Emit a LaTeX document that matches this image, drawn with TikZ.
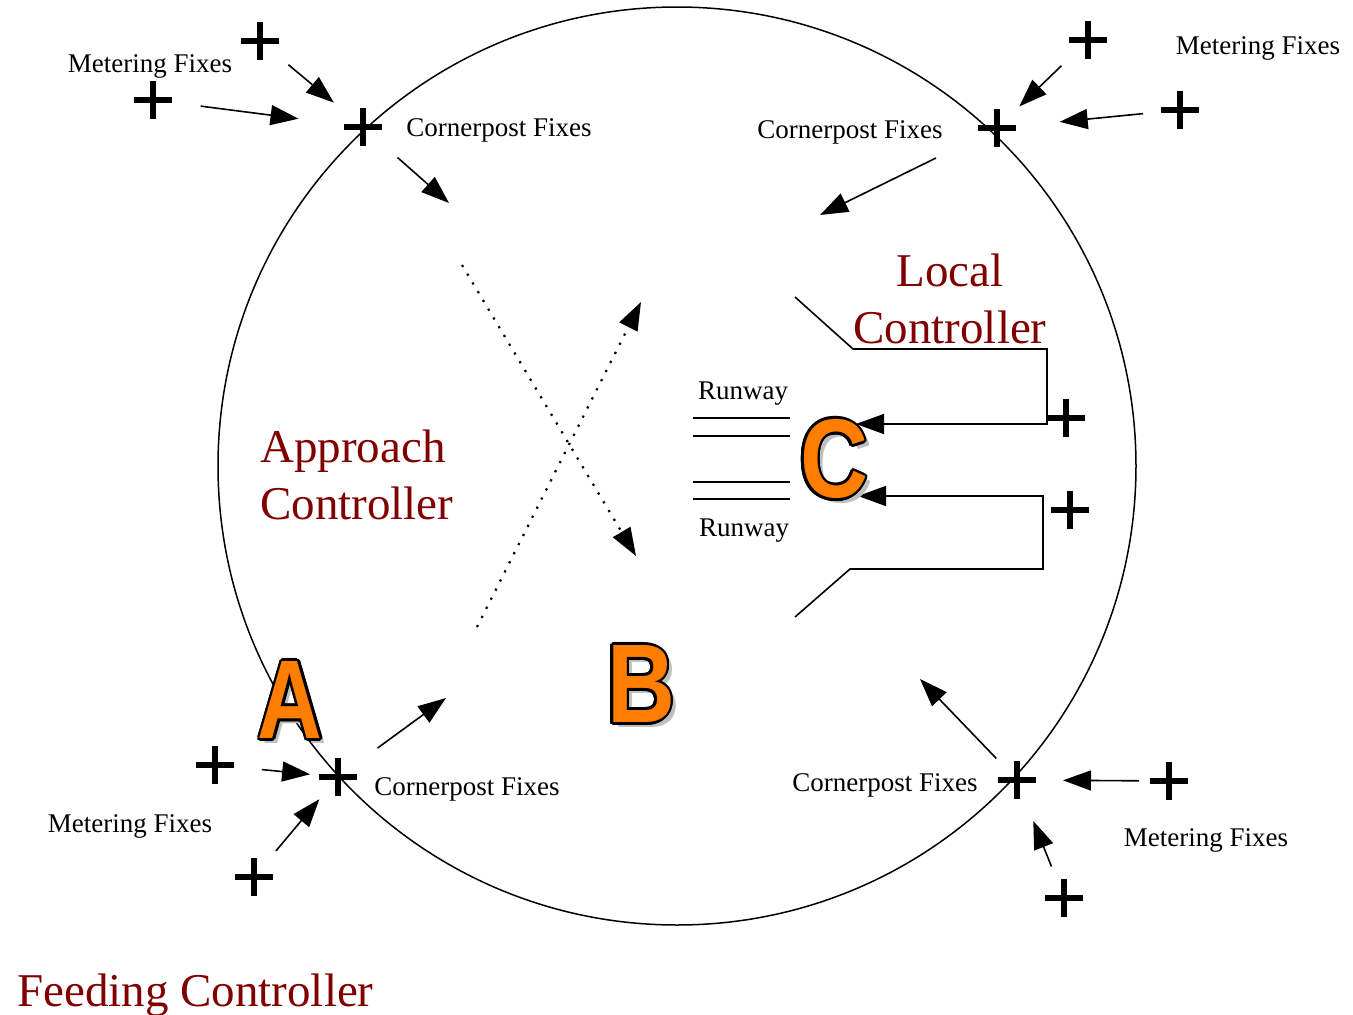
\documentclass[tikz,border=0pt]{standalone}
\usepackage{graphicx}
\usepackage{fontspec}
\setmainfont{Liberation Serif}
\newfontfamily\letterfont{Liberation Sans}
\usetikzlibrary{arrows.meta}
\definecolor{ctrlred}{RGB}{128,0,0}
\definecolor{letterorange}{RGB}{255,125,0}
\newcommand{\bigletter}[2][0.82]{{\letterfont\bfseries\fontsize{112}{112}\selectfont\scalebox{#1}[1]{#2}}}
\begin{document}
\begin{tikzpicture}[x=1pt,y=-1pt,
    fix/.style={minimum size=38pt,inner sep=0pt,
      path picture={\draw[line width=6pt] (path picture bounding box.north) -- (path picture bounding box.south)
        (path picture bounding box.west) -- (path picture bounding box.east);}},
    fixarrow/.style={line width=1.6pt,-{Triangle[length=28pt,width=20pt]}},
    flow/.style={line width=2.2pt,dash pattern=on 2.2pt off 8pt,-{Triangle[length=28pt,width=20pt]}},
    lbl/.style={anchor=base,inner sep=0pt,font=\fontsize{27}{32}\selectfont},
    ctrl/.style={inner sep=0pt,text=ctrlred,font=\fontsize{47}{57}\selectfont},
    letter/.style={inner sep=0pt}]
  \useasboundingbox (0,0) rectangle (1353,1015);
  % \draw[help lines,step=50] (0,0) grid (1353,1015);
  \draw[line width=1.5pt] (677,466) circle[radius=459pt];

  % fixes
  \node[fix] (cTL) at (363,127) {};
  \node[fix] (mTL1) at (260,41) {};
  \node[fix] (mTL2) at (153,100) {};
  \node[fix] (cTR) at (997,128) {};
  \node[fix] (mTR1) at (1088,40) {};
  \node[fix] (mTR2) at (1180,110) {};
  \node[fix] (cBL) at (338,777) {};
  \node[fix] (mBL1) at (215,765) {};
  \node[fix] (mBL2) at (254,877) {};
  \node[fix] (cBR) at (1017,780) {};
  \node[fix] (mBR1) at (1169,781) {};
  \node[fix] (mBR2) at (1064,898) {};
  \node[fix] (fR1) at (1066,418) {};
  \node[fix] (fR2) at (1070,510) {};

  \node[lbl] (mlTL) at (150,72) {Metering Fixes};
  \node[lbl] (mlTR) at (1258,54) {Metering Fixes};
  \node[lbl] (mlBL) at (130,832) {Metering Fixes};
  \node[lbl] (mlBR) at (1206,846) {Metering Fixes};
  \node[lbl] (clTL) at (499,136) {Cornerpost Fixes};
  \node[lbl] (clTR) at (850,138) {Cornerpost Fixes};
  \node[lbl] (clBL) at (467,795) {Cornerpost Fixes};
  \node[lbl] (clBR) at (885,791) {Cornerpost Fixes};
  \node[lbl] (rwTop) at (743,399) {Runway};
  \node[lbl] (rwBot) at (744,536) {Runway};

  % metering -> cornerpost
  \draw[fixarrow,shorten <=37pt,shorten >=38pt] (mTL1.center) -- (cTL.center);
  \draw[fixarrow,shorten <=48pt,shorten >=65pt] (mTL2.center) -- (cTL.center);
  \draw[fixarrow,shorten <=37pt,shorten >=31pt] (mTR1.center) -- (cTR.center);
  \draw[fixarrow,shorten <=37pt,shorten >=63pt] (mTR2.center) -- (cTR.center);
  \draw[fixarrow,shorten <=47pt,shorten >=28pt] (mBL1.center) -- (cBL.center);
  \draw[fixarrow,shorten <=34pt,shorten >=29pt] (mBL2.center) -- (cBL.center);
  \draw[fixarrow,shorten <=30pt,shorten >=46pt] (mBR1.center) -- (cBR.center);
  \draw[fixarrow,shorten <=34pt,shorten >=44pt] (mBR2.center) -- (cBR.center);

  % cornerpost -> approach area
  \coordinate (aTL) at (449,203);
  \coordinate (aTR) at (820,215);
  \coordinate (aBL) at (446,698);
  \coordinate (aBR) at (920,679);
  \draw[fixarrow,shorten <=46pt] (cTL.center) -- (aTL);
  \draw[fixarrow,shorten <=68pt] (cTR.center) -- (aTR);
  \draw[fixarrow,shorten <=49pt] (cBL.center) -- (aBL);
  \draw[fixarrow,shorten <=30pt] (cBR.center) -- (aBR);

  % crossing flows
  \coordinate (dTL) at (462,265);
  \coordinate (dBR) at (636,556);
  \coordinate (dBL) at (477,627);
  \coordinate (dTR) at (641,302);
  \draw[flow] (dTL) -- (dBR);
  \draw[flow] (dBL) -- (dTR);

  % runways
  \foreach \y in {418,436,482,499}
    \draw[line width=1.5pt] (693,\y) -- (790,\y);

  % local controller feeds
  \coordinate (lt0) at (795,297);
  \coordinate (lt1) at (853,349);
  \coordinate (lt2) at (1047,349);
  \coordinate (lt3) at (1047,424);
  \coordinate (lt4) at (856,424);
  \coordinate (lb0) at (795,617);
  \coordinate (lb1) at (850,569);
  \coordinate (lb2) at (1043,569);
  \coordinate (lb3) at (1043,496);
  \coordinate (lb4) at (858,496);
  \draw[fixarrow] (lt0) -- (lt1) -- (lt2) -- (lt3) -- (lt4);
  \draw[fixarrow] (lb0) -- (lb1) -- (lb2) -- (lb3) -- (lb4);

  \node[ctrl,anchor=west,align=left] (appr) at (260,475) {Approach\\Controller};
  \node[ctrl,align=center] (local) at (950,299) {Local\\Controller};
  \node[ctrl,anchor=base west] (feed) at (17,1006) {Feeding Controller};

  % letters
  \node[letter,text=black!25] (shA) at (295,705) {\bigletter[0.8]{A}};
  \foreach \a in {0,24,...,336}
    \node[letter,text=black,shift={(\a:2.6)}] (olA-\a) at (290,700) {\bigletter[0.8]{A}};
  \node[letter,text=letterorange] (lA) at (290,700) {\bigletter[0.8]{A}};

  \node[letter,text=black!25] (shB) at (646,689) {\bigletter[0.84]{B}};
  \foreach \a in {0,24,...,336}
    \node[letter,text=black,shift={(\a:2.6)}] (olB-\a) at (641,684) {\bigletter[0.84]{B}};
  \node[letter,text=letterorange] (lB) at (641,684) {\bigletter[0.84]{B}};

  \node[letter,text=black!25] (shC) at (839,464) {\bigletter[0.84]{C}};
  \foreach \a in {0,24,...,336}
    \node[letter,text=black,shift={(\a:2.6)}] (olC-\a) at (834,459) {\bigletter[0.84]{C}};
  \node[letter,text=letterorange] (lC) at (834,459) {\bigletter[0.84]{C}};
\end{tikzpicture}
\end{document}
